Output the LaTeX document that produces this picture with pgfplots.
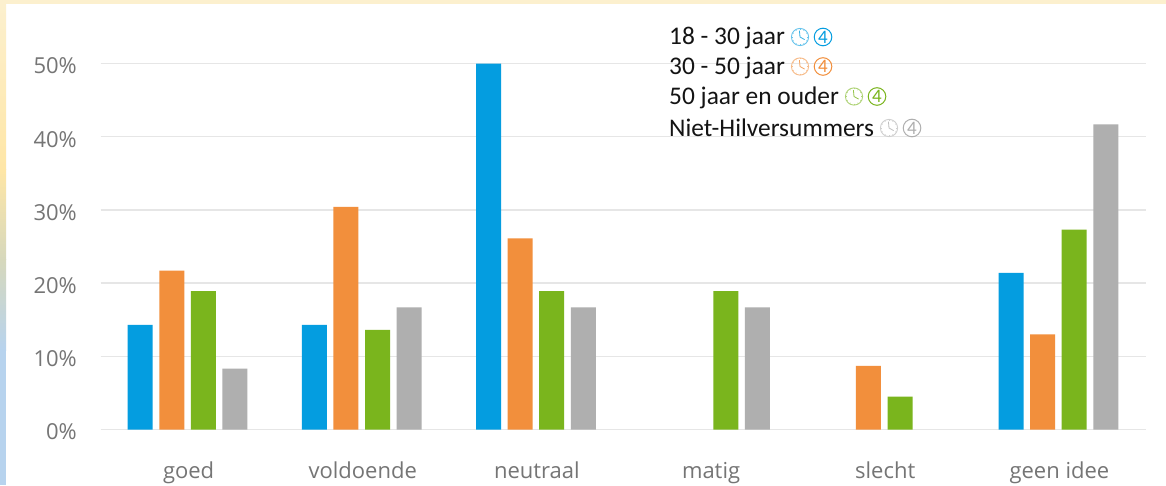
\documentclass[border=0pt]{standalone}
\usepackage{fontspec}
\usepackage{pgfplots}
\pgfplotsset{compat=1.18}
\setmainfont{Open Sans}
\newfontfamily\legendfont{Carlito}
\definecolor{cBlue}{HTML}{049DE0}
\definecolor{cOrange}{HTML}{F28F3C}
\definecolor{cGreen}{HTML}{7AB51D}
\definecolor{cGrey}{HTML}{AFAFAF}
\definecolor{cGrid}{HTML}{E6E6E6}
\definecolor{cLabel}{HTML}{757575}
\definecolor{cPale}{HTML}{FCF0CE}
\definecolor{cYellow}{HTML}{FEE6A6}
\definecolor{cMid}{HTML}{D6D8BC}
\definecolor{cSky}{HTML}{B7D3EE}
% clock face followed by a circled four, coloured per age group
\newcommand{\timeicons}[3]{%
  \begin{scope}[shift={(#1pt,#2pt)}]
    \draw[#3!60!white, line width=0.9pt] (0,0) circle (8.6pt);
    \foreach \a in {0,30,...,330}
      \draw[#3!60!white, line width=0.5pt] (\a:7.2pt) -- (\a:8.6pt);
    \draw[#3!80!white, line width=0.8pt] (-0.6pt,6.4pt) -- (0,0) -- (4.6pt,-2.6pt);
    \draw[#3, line width=1pt] (23pt,0pt) circle (8.8pt);
    \node[text=#3, inner sep=0pt, font=\legendfont\fontsize{19}{19}\selectfont] at (23pt,0pt) {4};
  \end{scope}}
\begin{document}
\begin{tikzpicture}[x=1pt,y=1pt]
  \useasboundingbox (0,0) rectangle (1166,485);
  % page frame: white panel inside a pale gradient edge
  \fill[white] (0,0) rectangle (1166,485);
  \fill[cPale] (0,481) rectangle (1166,485);
  \shade[top color=cPale, bottom color=cYellow] (0,315) rectangle (6,481);
  \shade[top color=cYellow, bottom color=cMid] (0,225) rectangle (6,315);
  \shade[top color=cMid, bottom color=cSky] (0,135) rectangle (6,225);
  \fill[cSky] (0,0) rectangle (6,135);
  \begin{axis}[
    at={(100.5pt,55.5pt)}, anchor=south west,
    scale only axis, width=1045pt, height=366pt,
    xmin=-0.5, xmax=5.5, ymin=0, ymax=50,
    ybar=6.6pt, bar width=25pt,
    xtick={0,1,2,3,4,5},
    xticklabels={goed,voldoende,neutraal,matig,slecht,geen idee},
    ytick={0,10,20,30,40,50},
    yticklabel={\pgfmathprintnumber{\tick}\%},
    /pgf/number format/assume math mode=true,
    ymajorgrids,
    grid style={cGrid, line width=1.4pt},
    axis line style={draw=none},
    tick style={draw=none},
    xticklabel style={font=\fontsize{22}{22}\selectfont, text=cLabel, xshift=1pt, yshift=-45pt, anchor=base, inner sep=0pt},
    yticklabel style={font=\fontsize{22}{22}\selectfont, text=cLabel, xshift=-23.5pt, yshift=-2.5pt, anchor=east, inner sep=0pt},
  ]
    \addplot[fill=cBlue, draw=none] coordinates {(0,14.3) (1,14.3) (2,50) (5,21.4)};
    \addplot[fill=cOrange, draw=none] coordinates {(0,21.7) (1,30.4) (2,26.1) (4,8.7) (5,13)};
    \addplot[fill=cGreen, draw=none] coordinates {(0,18.9) (1,13.6) (2,18.9) (3,18.9) (4,4.5) (5,27.3)};
    \addplot[fill=cGrey, draw=none] coordinates {(0,8.3) (1,16.7) (2,16.7) (3,16.7) (5,41.7)};
  \end{axis}
  % series key, set as lines of text beside their icons
  \begin{scope}[every node/.style={anchor=base west, inner sep=0pt, text=black!92, font=\legendfont\fontsize{25.4}{25.4}\selectfont}]
    \node at (669,440) {18 - 30 jaar};
    \node at (669,410) {30 - 50 jaar};
    \node at (669,380) {50 jaar en ouder};
    \node at (669,348) {Niet-Hilversummers};
  \end{scope}
  \timeicons{800}{448}{cBlue}
  \timeicons{800}{418.5}{cOrange}
  \timeicons{854}{388.5}{cGreen}
  \timeicons{889}{357}{cGrey}
\end{tikzpicture}
\end{document}
